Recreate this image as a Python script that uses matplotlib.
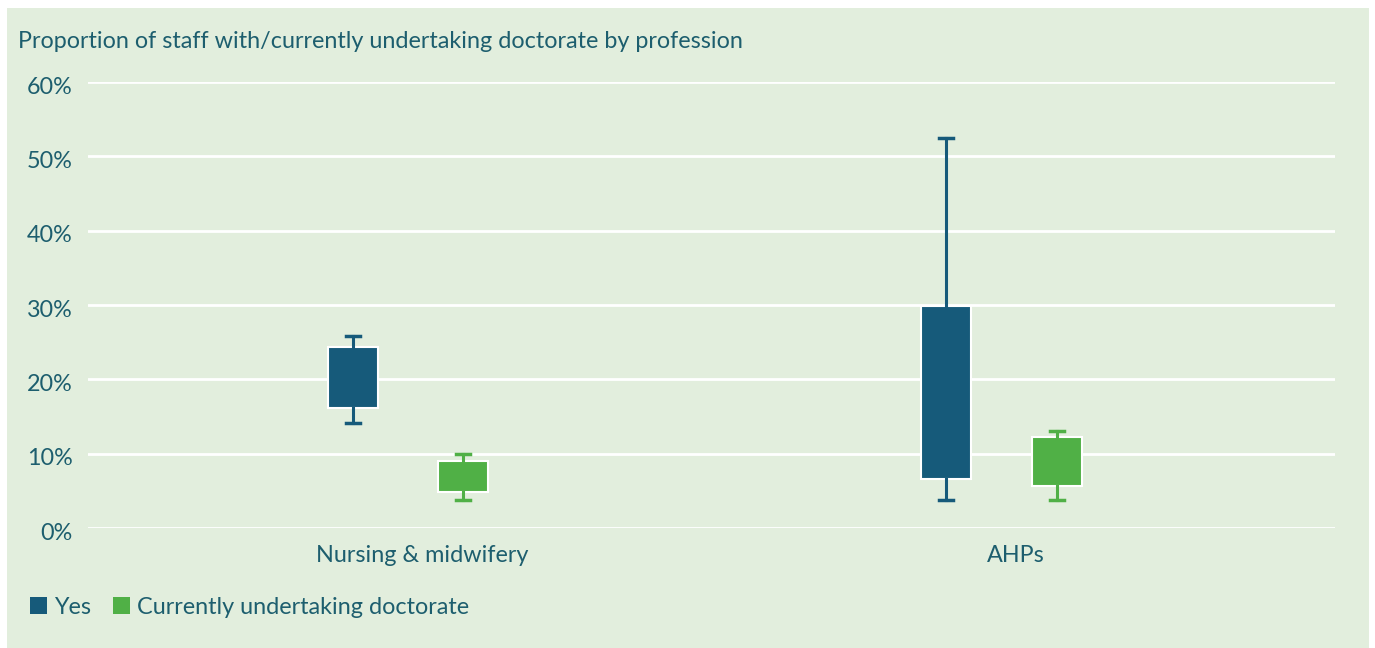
import matplotlib
matplotlib.use("Agg")
import matplotlib.pyplot as plt
import matplotlib.transforms as mtransforms
from matplotlib.patches import Patch, Rectangle
from matplotlib.ticker import FuncFormatter

# values (percent)
categories = ["Nursing & midwifery", "AHPs"]
series = ["Yes", "Currently undertaking doctorate"]

yes_low = [14.1, 3.7]
yes_q1 = [16.1, 6.6]
yes_q3 = [24.4, 29.9]
yes_high = [25.8, 52.4]

cur_low = [3.8, 3.7]
cur_q1 = [4.8, 5.7]
cur_q3 = [9.0, 12.2]
cur_high = [10.0, 13.1]

yticks = [0, 10, 20, 30, 40, 50, 60]

BG = "#e2eedd"
TXT = "#1d5e6e"
BLUE = "#165a7a"
GREEN = "#50b046"
FS = 16.8

plt.rcParams["font.family"] = ["Lato", "DejaVu Sans"]

fig = plt.figure(figsize=(13.75, 6.48), dpi=100)
fig.patch.set_facecolor("white")
fig.patches.append(Rectangle((7 / 1375, 0), 1362 / 1375, 640 / 648,
                             transform=fig.transFigure, facecolor=BG,
                             edgecolor="none", zorder=-5))

ax = fig.add_axes([88 / 1375, 120 / 648, 1247 / 1375, 446 / 648])
ax.set_facecolor("none")


def stats(low, q1, q3, high):
    return [dict(whislo=l, q1=a, med=a, q3=b, whishi=h)
            for l, a, b, h in zip(low, q1, q3, high)]


offset = 0.093
width = 0.084
for vals, col, sgn in [((yes_low, yes_q1, yes_q3, yes_high), BLUE, -1),
                       ((cur_low, cur_q1, cur_q3, cur_high), GREEN, 1)]:
    pos = [i + sgn * offset for i in range(len(categories))]
    ax.bxp(stats(*vals), positions=pos, widths=width, capwidths=0.024,
           patch_artist=True, showfliers=False, manage_ticks=False,
           boxprops=dict(facecolor=col, edgecolor="white", linewidth=1.5),
           whiskerprops=dict(color=col, linewidth=2.2),
           capprops=dict(color=col, linewidth=2.5),
           medianprops=dict(linewidth=0))

ax.set_xlim(-0.539, 1.562)
ax.set_ylim(0, 60)
ax.set_yticks(yticks)
ax.yaxis.set_major_formatter(FuncFormatter(lambda v, p: f"{v:.0f}%"))
ax.grid(axis="y", color="white", linewidth=2)
ax.set_axisbelow(True)
for s in ax.spines.values():
    s.set_visible(False)
ax.tick_params(length=0, labelsize=FS, labelcolor=TXT)
ax.tick_params(axis="y", pad=11)
ax.tick_params(axis="x", pad=12)
ax.set_xticks(range(len(categories)))
ax.set_xticklabels(categories)
shift = mtransforms.ScaledTranslation(0.14, 0, fig.dpi_scale_trans)
for lbl in ax.get_xticklabels():
    lbl.set_transform(lbl.get_transform() + shift)
for lbl in ax.get_yticklabels():
    lbl.set_transform(lbl.get_transform() +
                      mtransforms.ScaledTranslation(0, -0.03, fig.dpi_scale_trans))

fig.text(18 / 1375, 1 - 42 / 648, "Proportion of staff with/currently undertaking doctorate by profession",
         fontsize=FS, color=TXT, va="center", ha="left")

handles = [Patch(facecolor=BLUE, edgecolor="none"), Patch(facecolor=GREEN, edgecolor="none")]
fig.legend(handles, series, loc="center left", bbox_to_anchor=(9 / 1375, 1 - 607 / 648),
           ncol=2, frameon=False, fontsize=FS, labelcolor=TXT,
           handlelength=0.72, handleheight=0.72, handletextpad=0.3, columnspacing=0.95)

fig.savefig("out.png", dpi=100, facecolor=fig.get_facecolor())
